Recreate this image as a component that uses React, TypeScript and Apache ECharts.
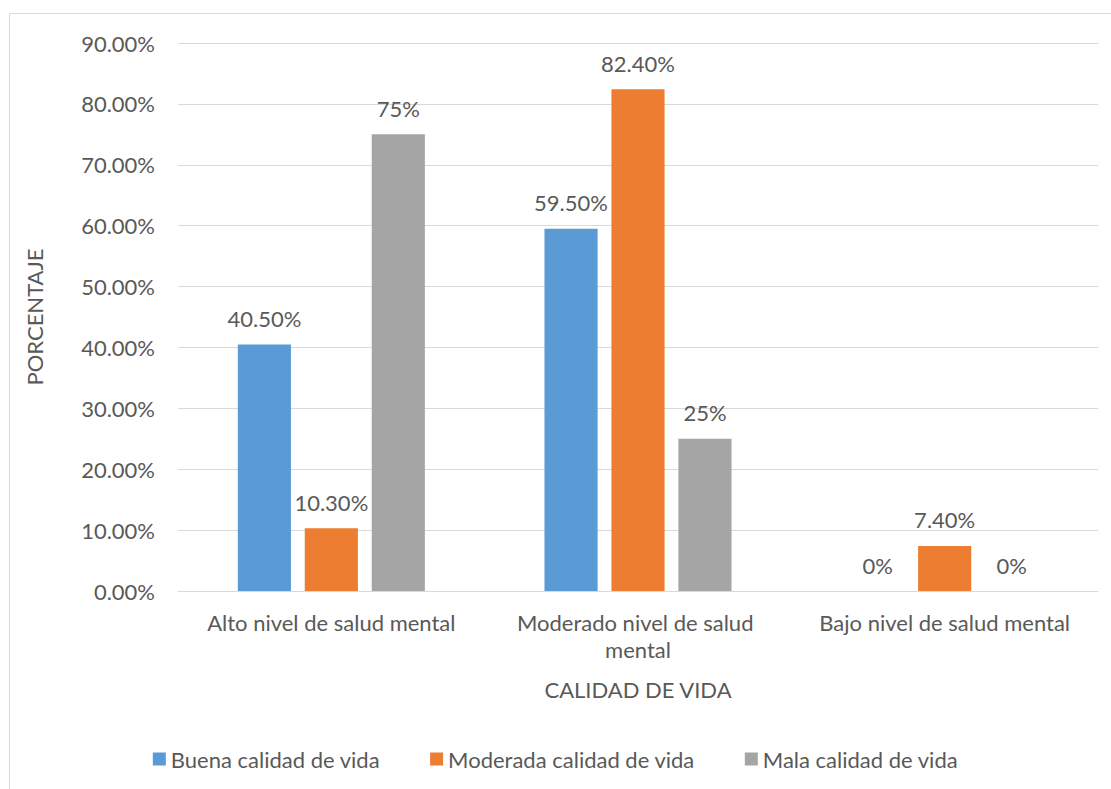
import React, { useEffect, useRef } from "react";
import * as echarts from "echarts";

const categories = [
  "Alto nivel de salud mental",
  "Moderado nivel de salud mental",
  "Bajo nivel de salud mental",
];
const seriesNames = [
  "Buena calidad de vida",
  "Moderada calidad de vida",
  "Mala calidad de vida",
];
const buena = [40.5, 59.5, 0];
const moderada = [10.3, 82.4, 7.4];
const mala = [75, 25, 0];
const colors = ["#5B9BD5", "#ED7D31", "#A5A5A5"];

const FONT = "Lato";
const SIZE = 22;
const TEXT = "#595959";

const fmtLabel = (v: number) =>
  Number.isInteger(v) ? `${v}%` : `${v.toFixed(2)}%`;

export default function App() {
  const ref = useRef<HTMLDivElement>(null);

  useEffect(() => {
    if (!ref.current) return;
    const chart = echarts.init(ref.current, null, { renderer: "svg" });
    const mk = (name: string, data: number[], color: string) => ({
      name,
      type: "bar",
      data,
      barGap: "26%",
      barCategoryGap: "39%",
      itemStyle: { color },
      label: {
        show: true,
        position: "top",
        distance: 15,
        color: TEXT,
        fontFamily: FONT,
        fontSize: SIZE,
        formatter: (p: any) => fmtLabel(p.value),
      },
    });
    chart.setOption({
      animation: false,
      backgroundColor: "#ffffff",
      textStyle: { fontFamily: FONT, color: TEXT },
      graphic: [
        {
          type: "rect",
          shape: { x: 9.5, y: 13.5, width: 1200, height: 900 },
          style: { fill: "none", stroke: "#d9d9d9", lineWidth: 1 },
          silent: true,
        },
      ],
      grid: { left: 178, right: 13, top: 43, bottom: 198 },
      legend: {
        bottom: 14,
        left: "center",
        itemWidth: 13,
        itemHeight: 13,
        itemGap: 50,
        icon: "rect",
        textStyle: { color: TEXT, fontFamily: FONT, fontSize: SIZE },
        data: seriesNames,
      },
      xAxis: {
        type: "category",
        data: categories,
        name: "CALIDAD DE VIDA",
        nameLocation: "middle",
        nameGap: 87,
        nameTextStyle: { color: TEXT, fontFamily: FONT, fontSize: SIZE },
        axisLine: { lineStyle: { color: "#d9d9d9" } },
        axisTick: { show: false },
        axisLabel: {
          interval: 0,
          color: TEXT,
          fontFamily: FONT,
          fontSize: SIZE,
          margin: 18,
          width: 285,
          overflow: "break",
          lineHeight: 27,
        },
      },
      yAxis: {
        type: "value",
        min: 0,
        max: 90,
        interval: 10,
        name: "PORCENTAJE",
        nameLocation: "middle",
        nameGap: 133,
        nameRotate: 90,
        nameTextStyle: { color: TEXT, fontFamily: FONT, fontSize: SIZE },
        axisLine: { show: false },
        axisTick: { show: false },
        splitLine: { lineStyle: { color: "#d9d9d9", width: 1 } },
        axisLabel: {
          color: TEXT,
          fontFamily: FONT,
          fontSize: SIZE,
          margin: 23,
          formatter: (v: number) => `${v.toFixed(2)}%`,
        },
      },
      series: [
        mk(seriesNames[0], buena, colors[0]),
        mk(seriesNames[1], moderada, colors[1]),
        mk(seriesNames[2], mala, colors[2]),
      ],
    });
    return () => chart.dispose();
  }, []);

  return (
    <div
      ref={ref}
      style={{ position: "fixed", left: 0, top: 0, width: 1111, height: 789 }}
    />
  );
}
